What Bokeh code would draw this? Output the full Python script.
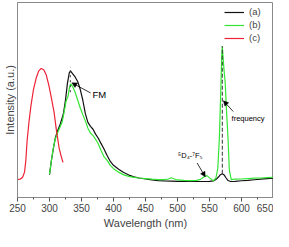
from bokeh.plotting import figure
from bokeh.models import Range1d, FixedTicker, Legend, LegendItem, Arrow, NormalHead
from bokeh.core.properties import value
from bokeh.embed import file_html
from bokeh.resources import INLINE

# ---- data ----
red_wl = [250, 254, 258, 261, 263, 265, 268, 271, 275, 279, 283, 287, 291, 295, 299, 303, 307, 311, 315, 318, 321]
red_int = [0.093, 0.094, 0.104, 0.13, 0.19, 0.29, 0.39, 0.47, 0.555, 0.61, 0.648, 0.662, 0.655, 0.628, 0.575, 0.51, 0.44, 0.34, 0.255, 0.215, 0.18]

black_wl = [300, 303, 306, 309, 313, 317, 320, 322, 325, 328, 331, 333, 336, 340, 344, 348, 352, 356, 360, 364,
            368, 372, 376, 380, 385, 390, 395, 400, 408, 416, 424, 432, 440, 450, 460, 470, 480, 490, 500, 510,
            520, 530, 540, 550, 556, 560, 564, 567, 570, 573, 576, 579, 583, 590, 600, 610, 620, 630, 640, 650]
black_int = [0.117, 0.19, 0.25, 0.305, 0.345, 0.378, 0.41, 0.435, 0.50, 0.585, 0.64, 0.648, 0.635, 0.618, 0.595, 0.555, 0.50, 0.43, 0.385, 0.365,
             0.35, 0.325, 0.305, 0.28, 0.25, 0.215, 0.185, 0.165, 0.145, 0.128, 0.115, 0.106, 0.10, 0.095, 0.09, 0.087, 0.085, 0.084, 0.083, 0.083,
             0.082, 0.082, 0.082, 0.083, 0.085, 0.092, 0.105, 0.117, 0.122, 0.115, 0.10, 0.087, 0.082, 0.083, 0.086, 0.088, 0.091, 0.094, 0.097, 0.10]

green_wl = [300, 303, 306, 309, 313, 317, 320, 323, 326, 329, 331, 333, 336, 340, 344, 348, 352, 356, 360, 364,
            368, 372, 376, 380, 385, 390, 395, 400, 408, 416, 424, 432, 440, 450, 460, 470, 480, 486, 490, 494,
            500, 510, 520, 530, 536, 541, 546, 551, 556, 560, 563, 565.5, 568, 569, 570, 571, 572.5, 574.5, 577, 579,
            581, 584, 590, 600, 610, 620, 630, 640, 650]
green_int = [0.12, 0.19, 0.255, 0.30, 0.335, 0.365, 0.39, 0.44, 0.495, 0.52, 0.56, 0.583, 0.57, 0.54, 0.50, 0.46, 0.425, 0.393, 0.355, 0.33,
             0.318, 0.298, 0.277, 0.245, 0.21, 0.19, 0.165, 0.148, 0.13, 0.116, 0.108, 0.103, 0.10, 0.097, 0.094, 0.092, 0.092, 0.095, 0.101, 0.096,
             0.09, 0.088, 0.087, 0.088, 0.093, 0.105, 0.112, 0.098, 0.086, 0.10, 0.15, 0.31, 0.59, 0.72, 0.776, 0.73, 0.66, 0.59, 0.42, 0.30,
             0.14, 0.092, 0.094, 0.095, 0.097, 0.099, 0.10, 0.102, 0.104]

series_names = ["(a)", "(b)", "(c)"]
x_ticks = [250, 300, 350, 400, 450, 500, 550, 600, 650]
x_minor = [275, 325, 375, 425, 475, 525, 575, 625]

# peak marker lines
mark_wl = [332.5, 570]
mark_low = [0.54, 0.122]
mark_high = [0.67, 0.776]

# annotations
ann_text = ["FM", "frequency", "\u2075D\u2084-\u2077F\u2085"]
ann_x = [367.0, 584.5, 520.0]
ann_y = [0.526, 0.405, 0.213]
ann_size = ["9.5px", "7.5px", "7.5px"]
ann_align = ["left", "left", "center"]
arr_x0 = [364.3, 587.1, 530.6]
arr_y0 = [0.536, 0.441, 0.177]
arr_x1 = [334.9, 571.7, 543.4]
arr_y1 = [0.588, 0.496, 0.106]

FONT = "Liberation Sans"

p = figure(width=273, height=231, output_backend="svg", toolbar_location=None,
           x_range=Range1d(250, 650), y_range=Range1d(0, 1),
           min_border_left=0, min_border_right=0, min_border_top=2, min_border_bottom=0)
p.xgrid.visible = False
p.ygrid.visible = False
p.outline_line_color = "#8a8a8a"
p.background_fill_color = "white"

r_a = p.line(black_wl, black_int, line_color="#111111", line_width=1.2)
r_b = p.line(green_wl, green_int, line_color="#33e633", line_width=1.2)
r_c = p.line(red_wl, red_int, line_color="#ee2236", line_width=1.2)

p.segment(x0=mark_wl[1:], y0=mark_low[1:], x1=mark_wl[1:], y1=mark_high[1:],
          line_color="#333333", line_width=1, line_dash="4 2")
p.segment(x0=mark_wl[:1], y0=mark_low[:1], x1=mark_wl[:1], y1=mark_high[:1],
          line_color="#333333", line_width=1, line_dash="2 3")

for i in range(3):
    p.add_layout(Arrow(end=NormalHead(size=5, fill_color="black", line_color="black", line_width=0.5),
                       x_start=arr_x0[i], y_start=arr_y0[i], x_end=arr_x1[i], y_end=arr_y1[i],
                       line_color="black", line_width=0.8))
    p.text(x=[ann_x[i]], y=[ann_y[i]], text=[ann_text[i]], text_font=value(FONT),
           text_font_size=ann_size[i], text_align=ann_align[i], text_baseline="middle", text_color="black")

# axes
xa = p.xaxis[0]
xa.ticker = FixedTicker(ticks=x_ticks, minor_ticks=x_minor)
xa.axis_label = "Wavelength (nm)"
xa.axis_label_text_font = FONT
xa.axis_label_text_font_style = "normal"
xa.axis_label_text_font_size = "11px"
xa.axis_label_standoff = 2
xa.major_label_text_font = FONT
xa.major_label_text_font_size = "10px"
xa.major_label_standoff = 2
xa.major_tick_in = 0
xa.major_tick_out = 4
xa.minor_tick_in = 0
xa.minor_tick_out = 2
xa.axis_line_color = "#8a8a8a"
xa.major_tick_line_color = "#555555"
xa.minor_tick_line_color = "#555555"

ya = p.yaxis[0]
ya.ticker = FixedTicker(ticks=[])
ya.axis_label = "Intensity (a.u.)"
ya.axis_label_text_font = FONT
ya.axis_label_text_font_style = "normal"
ya.axis_label_text_font_size = "11px"
ya.axis_label_standoff = 2
ya.major_label_text_font_size = "0px"
ya.major_tick_line_color = None
ya.minor_tick_line_color = None
ya.axis_line_color = "#8a8a8a"

legend = Legend(items=[LegendItem(label=series_names[0], renderers=[r_a]),
                       LegendItem(label=series_names[1], renderers=[r_b]),
                       LegendItem(label=series_names[2], renderers=[r_c])],
                location="top_right")
legend.border_line_color = None
legend.background_fill_alpha = 0
legend.label_text_font = FONT
legend.label_text_font_size = "9.5px"
legend.glyph_width = 20
legend.glyph_height = 10
legend.label_height = 10
legend.spacing = 2
legend.padding = 3
legend.margin = 4
legend.label_standoff = 5
p.add_layout(legend)

open("out.html", "w").write(file_html(p, INLINE))
